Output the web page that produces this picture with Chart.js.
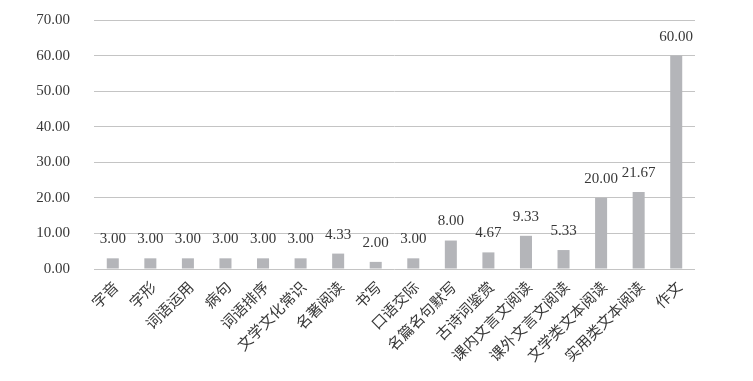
<!DOCTYPE html>
<html>
<head>
<meta charset="utf-8">
<script src="https://cdn.jsdelivr.net/npm/chart.js@4/dist/chart.umd.min.js"></script>
<style>
html,body{margin:0;padding:0;background:#fff;}
#c{display:block;}
</style>
</head>
<body>
<canvas id="c" width="753" height="381"></canvas>
<script>
const categories = ["字音","字形","词语运用","病句","词语排序","文学文化常识","名著阅读","书写","口语交际","名篇名句默写","古诗词鉴赏","课内文言文阅读","课外文言文阅读","文学类文本阅读","实用类文本阅读","作文"];
const values = [3.00,3.00,3.00,3.00,3.00,3.00,4.33,2.00,3.00,8.00,4.67,9.33,5.33,20.00,21.67,60.00];
const yTicks = [0,10,20,30,40,50,60,70];

const FONT = "'Liberation Serif', 'Noto Sans CJK SC', serif";
const TEXT = '#383838';

const valueLabels = {
  id: 'valueLabels',
  afterDatasetsDraw(chart) {
    const ctx = chart.ctx;
    const meta = chart.getDatasetMeta(0);
    ctx.save();
    ctx.font = "15px " + FONT;
    ctx.fillStyle = TEXT;
    ctx.textAlign = 'center';
    ctx.textBaseline = 'middle';
    meta.data.forEach((bar, i) => {
      ctx.fillText(values[i].toFixed(2), bar.x, bar.y - 19);
    });
    ctx.restore();
  }
};

new Chart(document.getElementById('c'), {
  type: 'bar',
  data: {
    labels: categories,
    datasets: [{
      data: values,
      backgroundColor: '#b4b5b9',
      borderWidth: 0,
      categoryPercentage: 1,
      barPercentage: 0.32
    }]
  },
  options: {
    responsive: false,
    devicePixelRatio: 1,
    animation: false,
    layout: { padding: { top: 20, right: 58, left: 0, bottom: 0 } },
    plugins: { legend: { display: false }, tooltip: { enabled: false } },
    scales: {
      x: {
        grid: { display: false, drawTicks: false },
        border: { display: false },
        ticks: {
          autoSkip: false,
          minRotation: 45,
          maxRotation: 45,
          padding: 10,
          labelOffset: 4,
          color: TEXT,
          font: { family: FONT, size: 15 }
        },
        afterFit(scale) { scale.height = 112; }
      },
      y: {
        min: 0,
        max: 70,
        afterBuildTicks(scale) { scale.ticks = yTicks.map(v => ({ value: v })); },
        grid: { color: '#c4c4c4', lineWidth: 1, drawTicks: false },
        border: { display: false },
        ticks: {
          padding: 24,
          color: TEXT,
          font: { family: FONT, size: 15 },
          callback: v => Number(v).toFixed(2)
        },
        afterFit(scale) {
          scale.width = 94;
          scale.paddingTop = 9;
          scale.paddingBottom = 9;
        }
      }
    }
  },
  plugins: [valueLabels]
});
</script>
</body>
</html>
